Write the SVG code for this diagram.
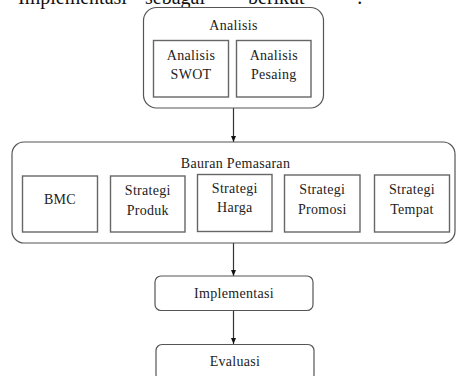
<svg xmlns="http://www.w3.org/2000/svg" width="456" height="376" viewBox="0 0 456 376">
<defs>
<style>
.t{font-family:"Liberation Serif","Times New Roman",serif;font-size:14px;fill:#222;letter-spacing:0.3px;text-anchor:middle}
.hd{font-family:"Liberation Serif","Times New Roman",serif;font-size:20px;fill:#111}
.outer{fill:#fff;stroke:#555;stroke-width:1.2}
.inner{fill:#fff;stroke:#666;stroke-width:1.4}
.conn{stroke:#333;stroke-width:1.2;fill:none;marker-end:url(#ah)}
</style>
<marker id="ah" viewBox="0 0 6 5" refX="6" refY="2.5" markerWidth="6" markerHeight="5" markerUnits="userSpaceOnUse" orient="auto">
<path d="M0,0 L6,2.5 L0,5 Z" fill="#111"/>
</marker>
</defs>
<rect width="456" height="376" fill="#fff"/>
<text class="hd" y="4"><tspan x="18">Implementasi</tspan><tspan x="145">sebagai</tspan><tspan x="248">berikut</tspan><tspan x="357">:</tspan></text>
<g id="connectors">
<line class="conn" x1="233.5" y1="108" x2="233.5" y2="142"/>
<line class="conn" x1="233.5" y1="243" x2="233.5" y2="276"/>
<line class="conn" x1="233.5" y1="311" x2="233.5" y2="344"/>
</g>
<g id="analisis">
<rect class="outer" x="143.5" y="7.5" width="180" height="100.5" rx="13"/>
<text class="t" x="233.5" y="30">Analisis</text>
</g>
<g id="swot">
<rect class="inner" x="153.5" y="40.5" width="75" height="56.5"/>
<text class="t" x="191" y="60">Analisis</text>
<text class="t" x="191" y="79">SWOT</text>
</g>
<g id="pesaing">
<rect class="inner" x="236.5" y="40.5" width="74.5" height="56.5"/>
<text class="t" x="273.8" y="60">Analisis</text>
<text class="t" x="273.8" y="79">Pesaing</text>
</g>
<g id="bauran">
<rect class="outer" x="12" y="142" width="443" height="101" rx="12"/>
<text class="t" x="235.5" y="168">Bauran Pemasaran</text>
</g>
<g id="bmc">
<rect class="inner" x="22.5" y="176" width="75" height="56"/>
<text class="t" x="60" y="204">BMC</text>
</g>
<g id="produk">
<rect class="inner" x="110.5" y="176" width="74.5" height="56"/>
<text class="t" x="147.8" y="195">Strategi</text>
<text class="t" x="147.8" y="215">Produk</text>
</g>
<g id="harga">
<rect class="inner" x="197.5" y="174.5" width="74.5" height="57"/>
<text class="t" x="234.8" y="193">Strategi</text>
<text class="t" x="234.8" y="212">Harga</text>
</g>
<g id="promosi">
<rect class="inner" x="284.5" y="175" width="75.5" height="57"/>
<text class="t" x="322.3" y="194">Strategi</text>
<text class="t" x="322.3" y="213.5">Promosi</text>
</g>
<g id="tempat">
<rect class="inner" x="374.5" y="175" width="75" height="57"/>
<text class="t" x="412" y="194">Strategi</text>
<text class="t" x="412" y="213.5">Tempat</text>
</g>
<g id="implementasi">
<rect class="outer" x="155" y="276" width="158" height="34.5" rx="6"/>
<text class="t" x="234" y="297.5">Implementasi</text>
</g>
<g id="evaluasi">
<rect class="outer" x="156" y="344.5" width="158" height="36" rx="6"/>
<text class="t" x="235" y="365.5">Evaluasi</text>
</g>
</svg>
